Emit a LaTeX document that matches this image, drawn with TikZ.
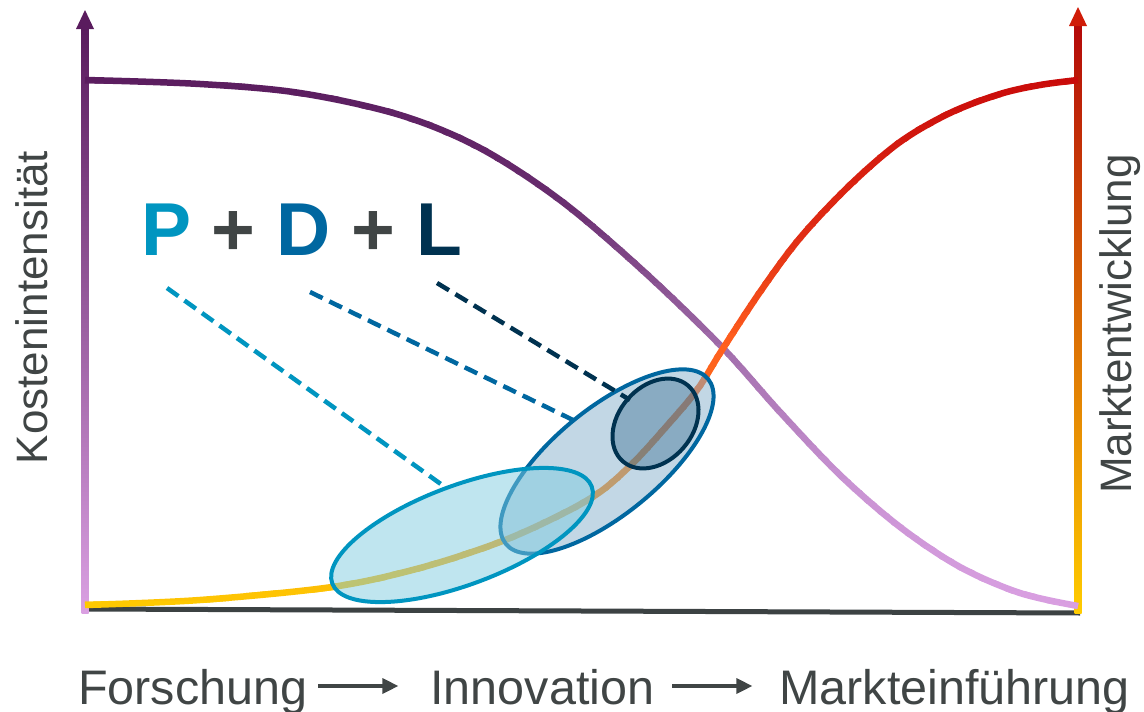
\documentclass[tikz,border=0pt]{standalone}
\usepackage{fontspec}
\setmainfont{Liberation Sans}
\usetikzlibrary{shapes.geometric,arrows.meta}
\definecolor{txtgrey}{RGB}{64,69,69}
\definecolor{basegrey}{RGB}{60,66,67}
% purple gradient stops
\definecolor{pu0}{RGB}{90,28,94}
\definecolor{pu1}{RGB}{104,44,110}
\definecolor{pu2}{RGB}{160,108,170}
\definecolor{pu3}{RGB}{200,146,210}
\definecolor{pu4}{RGB}{218,160,226}
% red gradient stops
\definecolor{re0}{RGB}{200,10,10}
\definecolor{re1}{RGB}{225,45,20}
\definecolor{re2}{RGB}{255,95,30}
\definecolor{re3}{RGB}{250,110,25}
\definecolor{re4}{RGB}{250,160,15}
\definecolor{re5}{RGB}{255,204,0}
\definecolor{pCol}{RGB}{0,149,192}
\definecolor{dCol}{RGB}{0,103,160}
\definecolor{lCol}{RGB}{0,50,80}
\definecolor{pFill}{RGB}{127,203,224}
\definecolor{dFill}{RGB}{133,176,203}
\definecolor{lFill}{RGB}{31,90,128}
\newcommand{\gradseg}[6]{%
  \foreach \k in {1,...,#6}{%
    \pgfmathsetmacro{\ylo}{#2+(#3-#2)*(\k-1)/#6}%
    \pgfmathsetmacro{\yhi}{#2+(#3-#2)*\k/#6}%
    \pgfmathsetmacro{\pc}{100-100*(\k-0.5)/#6}%
    \begin{scope}
      \clip (-5,\ylo-0.7) rectangle (1150,\yhi+0.7);
      \draw[curvestroke, color=#4!\pc!#5, use path=#1];
    \end{scope}
  }}
\tikzset{
  curvestroke/.style={line width=6.5pt, line cap=butt, line join=round},
  ell/.style={ellipse, inner sep=0pt, outer sep=0pt, line width=4pt, fill opacity=0.5, draw opacity=1},
  dashlink/.style={line width=4.5pt, dash pattern=on 14pt off 7.5pt},
  flowarrow/.style={line width=3.3pt, draw=txtgrey, -{Triangle[length=16pt,width=15pt]}},
  bottomlabel/.style={inner sep=0pt, outer sep=0pt, anchor=base west, text=txtgrey, font=\fontsize{48.5}{58}\selectfont},
  sidelabel/.style={inner sep=0pt, outer sep=0pt, anchor=base, rotate=90, text=txtgrey, font=\fontsize{44}{52}\selectfont}
}
\begin{document}
\begin{tikzpicture}[x=1pt,y=-1pt]
\useasboundingbox (0,0) rectangle (1144,712);
% baseline
\coordinate (O) at (85,609);
\coordinate (E) at (1080,613);
\draw[basegrey, line width=5pt] (O) -- (E);
% left axis
\coordinate (LA0) at (85,613);
\coordinate (LAt) at (85,10);
\shade[top color=pu0, middle color=pu2, bottom color=pu4] (81.5,28) rectangle (88.5,613);
\fill[pu0] (LAt) -- (76,29) -- (94,29) -- cycle;
% right axis
\coordinate (RA0) at (1078,613);
\coordinate (RAt) at (1078,7);
\shade[top color=re0!90!black, middle color=re2!90!re1, bottom color=re5] (1074.5,25) rectangle (1081.5,613);
\fill[re0!85!orange] (RAt) -- (1069,26) -- (1087,26) -- cycle;
% curves
\path[save path=\purplecurve] plot[smooth, tension=0.55] coordinates {(85,80) (200,84) (300,93) (400,115) (480,148) (560,200) (640,268) (720,345) (780,412) (840,475) (900,527) (960,567) (1020,593) (1078,606)};
\path[save path=\redcurve] plot[smooth, tension=0.55] coordinates {(85,605) (200,600) (332,587) (420,568) (500,542) (560,515) (600,492) (633,463) (665,428) (697,390) (722,350) (760,292) (800,238) (850,185) (900,142) (950,113) (1000,94) (1040,85) (1078,80)};
\gradseg{\purplecurve}{70}{200}{pu0}{pu1}{10}
\gradseg{\purplecurve}{200}{345}{pu1}{pu2}{12}
\gradseg{\purplecurve}{345}{480}{pu2}{pu3}{12}
\gradseg{\purplecurve}{480}{615}{pu3}{pu4}{12}
\gradseg{\redcurve}{70}{240}{re0}{re1}{12}
\gradseg{\redcurve}{240}{345}{re1}{re2}{10}
\gradseg{\redcurve}{345}{430}{re2}{re3}{8}
\gradseg{\redcurve}{430}{530}{re3}{re4}{10}
\gradseg{\redcurve}{530}{612}{re4}{re5}{8}
% ellipses
\node[ell, draw=dCol, fill=dFill, minimum width=261pt, minimum height=106pt, rotate=39.2] (D) at (607,461.5) {};
\node[ell, draw=pCol, fill=pFill, minimum width=277pt, minimum height=99pt, rotate=20.5] (P) at (462,535) {};
\node[ell, draw=lCol, fill=lFill, fill opacity=0.35, minimum width=100pt, minimum height=74pt, rotate=49.3] (L) at (655.5,423.5) {};
% dashed links
\coordinate (pS) at (167,288); \coordinate (pE) at (445,487);
\coordinate (dS) at (310,292); \coordinate (dE) at (573,420);
\coordinate (lS) at (437,283); \coordinate (lE) at (630,400);
\draw[dashlink, pCol] (pS) -- (pE);
\draw[dashlink, dCol] (dS) -- (dE);
\draw[dashlink, lCol] (lS) -- (lE);
% title
\node[inner sep=0pt, outer sep=0pt, anchor=base west, font=\fontsize{75}{90}\selectfont\bfseries] (pdl) at (141,255)
  {\textcolor{pCol}{P} \textcolor{txtgrey}{+} \textcolor{dCol}{D} \textcolor{txtgrey}{+} \textcolor{lCol}{L}};
% side labels
\node[sidelabel] (kost) at (47,307.5) {Kostenintensität};
\node[sidelabel] (markt) at (1131,324) {Marktentwicklung};
% bottom labels
\node[bottomlabel] (fo) at (78,704) {Forschung};
\node[bottomlabel] (inno) at (430.4,704) {Innovation};
\node[bottomlabel] (mk) at (779.4,704) {Markteinführung};
\draw[flowarrow] ([xshift=11pt,yshift=18pt]fo.base east) -- ([xshift=-32pt,yshift=18pt]inno.base west);
\draw[flowarrow] ([xshift=18pt,yshift=18pt]inno.base east) -- ([xshift=-27pt,yshift=18pt]mk.base west);
\end{tikzpicture}
\end{document}
